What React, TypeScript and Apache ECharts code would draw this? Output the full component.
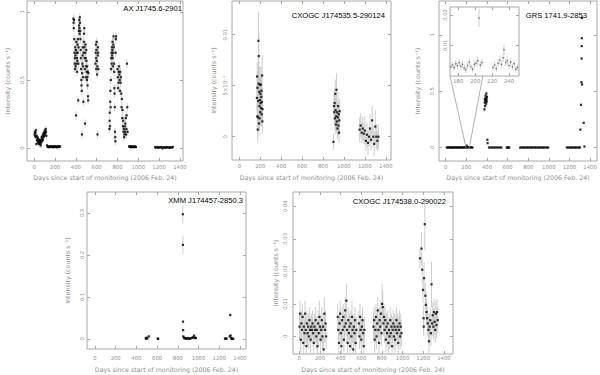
import React, { useEffect, useRef } from 'react';
import * as echarts from 'echarts';

// ---------- tick labels ----------
const X_TICKS = [0, 200, 400, 600, 800, 1000, 1200, 1400];
const X_NAME = 'Days since start of monitoring (2006 Feb. 24)';
const Y_NAME = 'Intensity (counts s\u207B\u00B9)';
const AX_Y_TICKS = [0, 0.5, 1];
const AX_Y_LABELS = ['0', '0.5', '1'];
const CXO1_Y_TICKS = [0, 0.005, 0.01];
const CXO1_Y_LABELS = ['0', '5\u00D710\u207B\u00B3', '0.01'];
const GRS_Y_TICKS = [0, 0.5, 1];
const GRS_Y_LABELS = ['0', '0.5', '1'];
const ZOOM_X_TICKS = [180, 200, 220, 240];
const ZOOM_Y_TICKS = [0.01, 0.02];
const ZOOM_Y_LABELS = ['0.01', '0.02'];
const XMM_Y_TICKS = [0, 0.1, 0.2, 0.3];
const XMM_Y_LABELS = ['0', '0.1', '0.2', '0.3'];
const CXO2_Y_TICKS = [0, 0.01, 0.02, 0.03, 0.04];
const CXO2_Y_LABELS = ['0', '0.01', '0.02', '0.03', '0.04'];

// ---------- data: [day, intensity, error] ----------
const AX_DATA = [
  [2, 0.10, 0.02], [5, 0.12, 0.02], [8, 0.09, 0.02], [11, 0.11, 0.02], [14, 0.08, 0.02], [17, 0.13, 0.02],
  [20, 0.03, 0.02], [23, 0.09, 0.02], [26, 0.06, 0.02], [29, 0.08, 0.02], [32, 0.05, 0.02], [35, 0.07, 0.02],
  [38, 0.04, 0.02], [41, 0.06, 0.02], [44, 0.03, 0.02], [47, 0.05, 0.02], [50, 0.04, 0.02], [53, 0.06, 0.02],
  [56, 0.03, 0.02], [59, 0.05, 0.02], [62, 0.02, 0.02], [65, 0.04, 0.02], [68, 0.06, 0.02], [71, 0.08, 0.02],
  [74, 0.05, 0.02], [77, 0.07, 0.02], [80, 0.09, 0.02], [83, 0.06, 0.02], [86, 0.10, 0.02], [89, 0.08, 0.02],
  [92, 0.11, 0.02], [95, 0.09, 0.02], [98, 0.12, 0.02], [101, 0.10, 0.02], [104, 0.13, 0.02], [107, 0.11, 0.02],
  [110, 0.14, 0.02], [113, 0.12, 0.02], [116, 0.09, 0.02],
  [122, 0.02, 0.008], [128, 0.01, 0.008], [134, 0.008, 0.008], [140, 0.012, 0.008], [146, 0.006, 0.008],
  [152, 0.01, 0.008], [158, 0.014, 0.008], [164, 0.008, 0.008], [170, 0.01, 0.008], [176, 0.012, 0.008],
  [182, 0.006, 0.008], [188, 0.01, 0.008], [194, 0.014, 0.008], [200, 0.008, 0.008], [206, 0.012, 0.008],
  [212, 0.01, 0.008], [218, 0.006, 0.008], [224, 0.012, 0.008], [230, 0.01, 0.008], [236, 0.008, 0.008],
  [242, 0.014, 0.008], [248, 0.01, 0.008],
  [376, 0.95, 0.03], [378, 0.92, 0.03], [380, 0.88, 0.03], [382, 0.94, 0.03], [384, 0.80, 0.03], [386, 0.70, 0.03],
  [388, 0.62, 0.03], [390, 0.66, 0.03], [392, 0.58, 0.03], [394, 0.74, 0.03], [396, 0.68, 0.03], [398, 0.60, 0.03],
  [400, 0.72, 0.03], [402, 0.24, 0.03], [404, 0.78, 0.03], [406, 0.62, 0.03], [408, 0.70, 0.03], [410, 0.66, 0.03],
  [412, 0.56, 0.03], [414, 0.64, 0.03], [416, 0.76, 0.03], [418, 0.70, 0.03], [420, 0.80, 0.03], [422, 0.35, 0.03],
  [424, 0.62, 0.03], [426, 0.74, 0.03], [428, 0.86, 0.03], [430, 0.90, 0.03], [432, 0.94, 0.03], [434, 0.88, 0.03],
  [436, 0.84, 0.03], [438, 0.96, 0.03], [440, 0.92, 0.03], [442, 0.86, 0.03], [444, 0.80, 0.03], [446, 0.72, 0.03],
  [448, 0.66, 0.03], [450, 0.58, 0.03], [452, 0.50, 0.03], [454, 0.46, 0.03], [456, 0.42, 0.03], [458, 0.10, 0.03],
  [460, 0.55, 0.03], [462, 0.62, 0.03], [464, 0.68, 0.03], [466, 0.74, 0.03], [468, 0.60, 0.03], [470, 0.52, 0.03],
  [472, 0.34, 0.03], [474, 0.70, 0.03], [476, 0.78, 0.03], [478, 0.84, 0.03], [480, 0.88, 0.03], [482, 0.74, 0.03],
  [484, 0.66, 0.03], [486, 0.58, 0.03], [488, 0.18, 0.03], [490, 0.70, 0.03], [492, 0.76, 0.03], [494, 0.66, 0.03],
  [496, 0.52, 0.03], [498, 0.60, 0.03], [500, 0.72, 0.03], [502, 0.64, 0.03], [504, 0.56, 0.03], [506, 0.50, 0.03],
  [508, 0.60, 0.03], [510, 0.52, 0.03], [512, 0.46, 0.03], [514, 0.56, 0.03], [516, 0.38, 0.03], [518, 0.35, 0.03],
  [520, 0.55, 0.03],
  [588, 0.62, 0.03], [590, 0.70, 0.03], [592, 0.76, 0.03], [594, 0.66, 0.03], [596, 0.58, 0.03], [598, 0.72, 0.03],
  [600, 0.78, 0.03], [602, 0.64, 0.03], [604, 0.54, 0.03], [606, 0.60, 0.03], [608, 0.10, 0.03], [610, 0.68, 0.03],
  [612, 0.74, 0.03], [614, 0.70, 0.03], [616, 0.58, 0.03],
  [722, 0.14, 0.03], [724, 0.20, 0.03], [726, 0.26, 0.03], [728, 0.16, 0.03], [730, 0.34, 0.03], [732, 0.42, 0.03],
  [734, 0.30, 0.03], [736, 0.50, 0.03], [738, 0.58, 0.03], [740, 0.66, 0.03], [742, 0.70, 0.03], [744, 0.62, 0.03],
  [746, 0.74, 0.03], [748, 0.68, 0.03], [750, 0.72, 0.03], [752, 0.78, 0.03], [754, 0.66, 0.03], [756, 0.60, 0.03],
  [758, 0.70, 0.03], [760, 0.76, 0.03], [762, 0.82, 0.03], [764, 0.74, 0.03], [766, 0.62, 0.03], [768, 0.56, 0.03],
  [770, 0.44, 0.03], [772, 0.40, 0.03], [774, 0.30, 0.03], [776, 0.12, 0.03], [778, 0.08, 0.03], [780, 0.05, 0.03],
  [782, 0.70, 0.03], [784, 0.80, 0.03], [786, 0.82, 0.03],
  [800, 0.58, 0.03], [803, 0.52, 0.03], [806, 0.44, 0.03], [809, 0.48, 0.03], [812, 0.56, 0.03], [815, 0.60, 0.03],
  [818, 0.54, 0.03], [821, 0.50, 0.03], [824, 0.42, 0.03], [827, 0.56, 0.03], [830, 0.48, 0.03], [833, 0.52, 0.03],
  [836, 0.40, 0.03], [839, 0.30, 0.03], [842, 0.36, 0.03],
  [846, 0.22, 0.03], [849, 0.28, 0.03], [852, 0.16, 0.03], [855, 0.20, 0.03], [858, 0.12, 0.03], [861, 0.14, 0.03],
  [864, 0.08, 0.03], [867, 0.10, 0.03], [870, 0.16, 0.03], [873, 0.12, 0.03], [876, 0.18, 0.03], [879, 0.22, 0.03],
  [882, 0.10, 0.03], [885, 0.14, 0.03], [888, 0.24, 0.03], [891, 0.62, 0.03], [894, 0.30, 0.03], [897, 0.12, 0.03],
  [912, 0.012, 0.008], [918, 0.008, 0.008], [924, 0.014, 0.008], [930, 0.006, 0.008], [936, 0.01, 0.008],
  [942, 0.012, 0.008], [948, 0.008, 0.008], [954, 0.01, 0.008], [960, 0.006, 0.008], [966, 0.012, 0.008],
  [972, 0.01, 0.008], [978, 0.008, 0.008],
  [1162, 0.006, 0.008], [1172, 0.004, 0.008], [1182, 0.008, 0.008], [1192, 0.002, 0.008], [1202, 0.006, 0.008],
  [1212, 0.004, 0.008], [1222, 0.008, 0.008], [1232, -0.002, 0.008], [1242, 0.006, 0.008], [1252, 0.004, 0.008],
  [1262, 0.002, 0.008], [1272, 0.008, 0.008], [1282, 0.004, 0.008], [1292, 0.006, 0.008], [1302, 0.002, 0.008],
  [1312, 0.006, 0.008], [1322, 0.004, 0.008], [1332, 0.008, 0.008],
];

const CXO1_DATA = [
  [168, 0.0038, 0.0012], [170, 0.0059, 0.0014], [172, 0.0020, 0.0012], [174, 0.0048, 0.0016], [176, 0.0007, 0.0012],
  [178, 0.0019, 0.0014], [180, 0.0035, 0.0018], [182, 0.0094, 0.0028], [184, 0.0052, 0.0020], [186, 0.0079, 0.0024],
  [188, 0.0013, 0.0012], [190, 0.0044, 0.0016], [192, 0.0030, 0.0014], [194, 0.0018, 0.0012], [196, 0.0051, 0.0018],
  [198, 0.0036, 0.0016], [200, 0.0024, 0.0014], [202, 0.0042, 0.0016], [204, 0.0033, 0.0014], [206, 0.0051, 0.0018],
  [208, 0.0028, 0.0014], [210, 0.0039, 0.0016], [212, 0.0045, 0.0016], [214, 0.0022, 0.0012], [216, 0.0034, 0.0014],
  [218, 0.0060, 0.0020], [220, 0.0015, 0.0012], [222, 0.0027, 0.0014],
  [900, -0.0005, 0.0008], [905, 0.0030, 0.0012], [908, 0.0024, 0.0012], [911, 0.0033, 0.0014], [914, 0.0018, 0.0012],
  [917, 0.0042, 0.0014], [920, 0.0026, 0.0012], [923, 0.0012, 0.0010], [926, 0.0020, 0.0012], [929, 0.0046, 0.0016],
  [932, 0.0015, 0.0010], [935, 0.0024, 0.0012], [938, 0.0008, 0.0010], [941, 0.0019, 0.0012], [944, 0.0030, 0.0014],
  [947, 0.0011, 0.0010], [950, 0.0022, 0.0012], [953, 0.0004, 0.0010], [956, 0.0016, 0.0012], [959, 0.0025, 0.0012],
  [1150, 0.0007, 0.0012], [1160, 0.0011, 0.0012], [1170, 0.0004, 0.0010], [1180, 0.0008, 0.0012], [1190, 0.0003, 0.0010],
  [1200, 0.0006, 0.0014], [1210, -0.0004, 0.0010], [1220, 0.0002, 0.0012], [1230, -0.0006, 0.0012], [1240, 0.0000, 0.0010],
  [1250, 0.0008, 0.0014], [1260, -0.0003, 0.0010], [1270, 0.0016, 0.0014], [1280, 0.0000, 0.0010], [1290, -0.0007, 0.0012],
  [1300, 0.0010, 0.0016], [1310, 0.0000, 0.0012], [1320, -0.0004, 0.0010], [1330, 0.0000, 0.0012],
];

const GRS_DATA = [
  [10, 0.002, 0.003], [20, 0.001, 0.003], [30, 0.003, 0.003], [40, 0.002, 0.003], [50, 0.001, 0.003], [60, 0.002, 0.003],
  [70, 0.001, 0.003], [80, 0.002, 0.003], [90, 0.003, 0.003], [100, 0.001, 0.003], [110, 0.002, 0.003], [120, 0.002, 0.003],
  [130, 0.001, 0.003], [140, 0.003, 0.003], [150, 0.002, 0.003], [160, 0.001, 0.003], [170, 0.002, 0.003], [180, 0.003, 0.003],
  [190, 0.002, 0.003], [200, 0.004, 0.003], [204, 0.018, 0.004], [210, 0.003, 0.003], [220, 0.002, 0.003], [230, 0.004, 0.003],
  [240, 0.003, 0.003], [250, 0.002, 0.003], [260, 0.001, 0.003],
  [376, 0.34, 0.02], [378, 0.40, 0.02], [380, 0.43, 0.02], [382, 0.37, 0.02], [384, 0.42, 0.02], [386, 0.46, 0.02],
  [388, 0.41, 0.02], [390, 0.44, 0.02], [392, 0.39, 0.02], [394, 0.48, 0.02], [396, 0.43, 0.02], [398, 0.41, 0.02],
  [400, 0.45, 0.02], [404, 0.07, 0.01], [406, 0.04, 0.01],
  [420, 0.002, 0.003], [435, 0.001, 0.003], [450, 0.002, 0.003], [465, 0.001, 0.003], [480, 0.002, 0.003],
  [495, 0.002, 0.003], [510, 0.001, 0.003], [525, 0.002, 0.003], [540, 0.001, 0.003],
  [592, 0.002, 0.003], [600, 0.001, 0.003], [608, 0.002, 0.003], [616, 0.001, 0.003],
  [722, 0.001, 0.003], [735, 0.002, 0.003], [748, 0.001, 0.003], [761, 0.002, 0.003], [774, 0.001, 0.003],
  [787, 0.002, 0.003], [800, 0.002, 0.003], [813, 0.001, 0.003], [826, 0.002, 0.003], [839, 0.001, 0.003],
  [852, 0.002, 0.003], [865, 0.002, 0.003], [878, 0.001, 0.003], [891, 0.002, 0.003], [904, 0.001, 0.003],
  [917, 0.002, 0.003], [930, 0.002, 0.003], [943, 0.001, 0.003], [956, 0.002, 0.003], [969, 0.001, 0.003],
  [982, 0.002, 0.003], [995, 0.001, 0.003],
  [1175, 0.002, 0.003], [1188, 0.001, 0.003], [1201, 0.002, 0.003], [1214, 0.001, 0.003], [1227, 0.002, 0.003],
  [1240, 0.001, 0.003], [1253, 0.002, 0.003], [1266, 0.001, 0.003], [1279, 0.002, 0.003], [1292, 0.001, 0.003],
  [1302, 0.002, 0.003],
  [1306, 0.16, 0.01], [1312, 0.38, 0.01], [1316, 0.58, 0.01], [1318, 0.79, 0.01], [1319, 0.90, 0.01],
  [1320, 0.97, 0.01], [1321, 1.15, 0.02], [1322, 0.56, 0.01], [1338, 0.22, 0.01], [1345, 0.01, 0.01],
];

const GRS_ZOOM_DATA = [
  [171, 0.0030, 0.0010], [173, 0.0036, 0.0010], [175, 0.0028, 0.0010], [177, 0.0040, 0.0012], [179, 0.0034, 0.0010],
  [181, 0.0044, 0.0012], [183, 0.0032, 0.0010], [185, 0.0038, 0.0012], [187, 0.0026, 0.0010], [189, 0.0020, 0.0010],
  [191, 0.0034, 0.0010], [193, 0.0046, 0.0012], [195, 0.0030, 0.0010], [197, 0.0022, 0.0010], [199, 0.0038, 0.0012],
  [201, 0.0042, 0.0012], [203, 0.0050, 0.0014], [204.5, 0.0190, 0.0030], [206, 0.0036, 0.0012], [208, 0.0044, 0.0012],
  [221, 0.0028, 0.0010], [223, 0.0036, 0.0012], [225, 0.0024, 0.0010], [227, 0.0042, 0.0012], [229, 0.0052, 0.0014],
  [231, 0.0038, 0.0012], [233, 0.0060, 0.0014], [234, 0.0086, 0.0016], [236, 0.0044, 0.0012], [238, 0.0050, 0.0014],
  [240, 0.0034, 0.0012], [242, 0.0046, 0.0012], [244, 0.0030, 0.0010], [246, 0.0040, 0.0012], [248, 0.0022, 0.0010],
  [250, 0.0028, 0.0010],
];

const XMM_DATA = [
  [490, 0.002, 0.002], [495, 0.000, 0.002], [500, 0.003, 0.002], [505, 0.001, 0.002], [520, 0.006, 0.002],
  [605, 0.001, 0.002], [610, 0.000, 0.002],
  [848, 0.297, 0.022], [849, 0.224, 0.022], [850, 0.041, 0.004], [851, 0.021, 0.004], [853, 0.006, 0.003],
  [858, 0.003, 0.002], [866, 0.001, 0.002], [875, 0.002, 0.002], [884, 0.000, 0.002], [893, 0.001, 0.002],
  [902, 0.002, 0.002], [911, 0.000, 0.002], [920, 0.001, 0.002], [930, 0.002, 0.002], [940, 0.003, 0.002],
  [950, 0.004, 0.002], [956, 0.008, 0.003], [962, 0.002, 0.002], [968, 0.003, 0.002], [974, 0.002, 0.002],
  [1255, 0.001, 0.002], [1262, 0.000, 0.002], [1270, 0.001, 0.002], [1300, 0.006, 0.003], [1306, 0.057, 0.006],
  [1310, 0.008, 0.003], [1315, 0.002, 0.002], [1320, 0.000, 0.002], [1328, 0.001, 0.002], [1335, 0.000, 0.002],
];

const CXO2_DATA = [
  [2, 0.003, 0.004], [8, 0.007, 0.004], [14, -0.001, 0.004], [20, 0.004, 0.004], [26, 0.002, 0.004], [32, 0.006, 0.004],
  [38, -0.002, 0.004], [44, 0.003, 0.004], [50, 0.001, 0.004], [56, 0.007, 0.004], [62, 0.002, 0.004], [68, -0.003, 0.004],
  [74, 0.004, 0.004], [80, 0.001, 0.004], [86, 0.003, 0.004], [92, 0.000, 0.004], [98, 0.005, 0.004], [104, 0.002, 0.004],
  [110, -0.001, 0.004], [116, 0.003, 0.004], [122, 0.002, 0.004], [128, 0.004, 0.004], [134, 0.001, 0.004], [140, -0.002, 0.004],
  [146, 0.003, 0.004], [152, 0.002, 0.004], [158, 0.005, 0.004], [164, 0.000, 0.004], [170, 0.002, 0.004], [176, -0.003, 0.004],
  [182, 0.004, 0.004], [188, 0.001, 0.004], [194, 0.006, 0.005], [200, 0.003, 0.004], [206, -0.001, 0.004], [212, 0.002, 0.004],
  [218, 0.005, 0.004], [224, 0.000, 0.004], [230, 0.003, 0.004], [236, -0.004, 0.004], [242, 0.007, 0.005], [248, 0.002, 0.004],
  [254, 0.004, 0.004], [260, 0.000, 0.004],
  [372, 0.006, 0.004], [378, 0.002, 0.004], [384, -0.002, 0.004], [390, 0.004, 0.004], [396, 0.007, 0.004], [402, 0.001, 0.004],
  [408, -0.003, 0.004], [414, 0.005, 0.004], [420, 0.002, 0.004], [426, 0.006, 0.004], [432, -0.001, 0.004], [438, 0.003, 0.004],
  [444, 0.008, 0.004], [450, 0.004, 0.004], [456, 0.011, 0.005], [462, 0.002, 0.004], [468, -0.002, 0.004], [474, 0.005, 0.004],
  [480, 0.001, 0.004], [486, 0.003, 0.004], [492, -0.003, 0.004], [498, 0.004, 0.004], [504, 0.000, 0.004], [510, 0.006, 0.005],
  [516, 0.002, 0.004], [522, -0.004, 0.004], [528, 0.003, 0.004], [534, 0.001, 0.004], [540, 0.005, 0.004], [546, -0.002, 0.004],
  [552, 0.002, 0.004],
  [576, 0.004, 0.004], [582, 0.000, 0.004], [588, 0.006, 0.004], [594, 0.002, 0.004], [600, -0.001, 0.004], [606, 0.003, 0.004],
  [612, 0.005, 0.004], [618, 0.001, 0.004], [624, -0.003, 0.004], [630, 0.002, 0.004],
  [718, 0.003, 0.004], [724, 0.005, 0.004], [730, -0.001, 0.004], [736, 0.002, 0.004], [742, 0.006, 0.004], [748, 0.000, 0.004],
  [754, 0.004, 0.004], [760, 0.008, 0.004], [766, 0.002, 0.004], [772, -0.002, 0.004], [778, 0.005, 0.004], [784, 0.003, 0.004],
  [790, 0.007, 0.004], [796, 0.001, 0.004], [802, 0.010, 0.006], [808, 0.009, 0.005], [814, 0.004, 0.004], [820, 0.006, 0.004],
  [826, 0.002, 0.004], [832, 0.005, 0.004], [838, -0.001, 0.004], [844, 0.003, 0.004], [850, 0.001, 0.004], [856, 0.004, 0.004],
  [862, -0.002, 0.004], [868, 0.002, 0.004], [874, 0.000, 0.004], [880, 0.005, 0.004], [886, 0.001, 0.004], [892, 0.003, 0.004],
  [898, -0.003, 0.004], [904, 0.002, 0.004], [910, 0.004, 0.004], [916, 0.000, 0.004], [922, 0.003, 0.004], [928, -0.001, 0.004],
  [934, 0.002, 0.004], [940, 0.005, 0.004], [946, 0.001, 0.004], [952, 0.003, 0.004], [958, -0.002, 0.004], [964, 0.002, 0.004],
  [970, 0.004, 0.004], [976, 0.000, 0.004], [982, 0.003, 0.004], [988, 0.001, 0.004],
  [1168, 0.024, 0.003], [1183, 0.027, 0.005], [1190, 0.0205, 0.004], [1198, 0.0143, 0.004], [1203, 0.0056, 0.004],
  [1205, 0.003, 0.003], [1208, 0.0179, 0.005], [1215, 0.0345, 0.008], [1220, 0.0125, 0.004], [1225, 0.0097, 0.004],
  [1232, 0.0075, 0.004], [1238, 0.0056, 0.004], [1244, 0.004, 0.004], [1250, 0.002, 0.004], [1256, -0.0015, 0.004],
  [1262, 0.003, 0.004], [1268, 0.005, 0.004], [1274, 0.001, 0.004], [1280, 0.016, 0.007], [1286, 0.004, 0.004],
  [1292, 0.0065, 0.004], [1298, 0.003, 0.004], [1304, 0.0075, 0.004], [1310, 0.0045, 0.004], [1316, 0.002, 0.004],
  [1322, 0.007, 0.004], [1328, 0.0035, 0.004], [1334, 0.0075, 0.004], [1340, 0.005, 0.004],
];

// ---------- styles ----------
const FRAME = '#a8a8a8';
const LABEL = '#8f8f8f';
const ERR = '#c2c2c2';
const LABEL_FONT = 'DejaVu Sans';

type Panel = {
  title?: string; titleRight?: number; titleTop?: number;
  data: number[][];
  left: number; top: number; width: number; height: number;
  xMin: number; xMax: number; yMin: number; yMax: number;
  xTicks: number[]; yTicks: number[]; yLabels: string[];
  xLabelMargin: number; yLabelMargin: number;
  xNameGap?: number; yNameGap?: number;
  inset?: boolean; labelSize: number; symbolSize: number;
};

const PANELS: Panel[] = [
  { title: 'AX J1745.6-2901', titleRight: 418, titleTop: 4, data: AX_DATA,
    left: 27, top: 1, width: 156, height: 160, xMin: -70, xMax: 1430, yMin: -0.095, yMax: 1.08,
    xTicks: X_TICKS, yTicks: AX_Y_TICKS, yLabels: AX_Y_LABELS, xLabelMargin: 3, yLabelMargin: 3,
    xNameGap: 13.5, yNameGap: 17, labelSize: 5.3, symbolSize: 2.2 },
  { title: 'CXOGC J174535.5-290124', titleRight: 215, titleTop: 11, data: CXO1_DATA,
    left: 232, top: 1, width: 159, height: 159, xMin: -70, xMax: 1450, yMin: -0.00228, yMax: 0.0133,
    xTicks: X_TICKS, yTicks: CXO1_Y_TICKS, yLabels: CXO1_Y_LABELS, xLabelMargin: 3, yLabelMargin: 4.5,
    xNameGap: 14, yNameGap: 16, labelSize: 5.3, symbolSize: 2.2 },
  { title: 'GRS 1741.9-2853', titleRight: 13, titleTop: 11, data: GRS_DATA,
    left: 439, top: 1, width: 158, height: 160, xMin: -65, xMax: 1467, yMin: -0.118, yMax: 1.30,
    xTicks: X_TICKS, yTicks: GRS_Y_TICKS, yLabels: GRS_Y_LABELS, xLabelMargin: 3, yLabelMargin: 4.8,
    xNameGap: 13.5, yNameGap: 18.5, labelSize: 5.3, symbolSize: 2.2 },
  { title: 'XMM J174457-2850.3', titleRight: 357, titleTop: 196, data: XMM_DATA,
    left: 87, top: 192, width: 159, height: 157, xMin: -77, xMax: 1458, yMin: -0.024, yMax: 0.35,
    xTicks: X_TICKS, yTicks: XMM_Y_TICKS, yLabels: XMM_Y_LABELS, xLabelMargin: 6.5, yLabelMargin: 2.5,
    xNameGap: 17, yNameGap: 17, labelSize: 5.3, symbolSize: 2.2 },
  { title: 'CXOGC J174538.0-290022', titleRight: 154, titleTop: 197, data: CXO2_DATA,
    left: 293, top: 192, width: 160, height: 162, xMin: -61, xMax: 1488, yMin: -0.0054, yMax: 0.0444,
    xTicks: X_TICKS, yTicks: CXO2_Y_TICKS, yLabels: CXO2_Y_LABELS, xLabelMargin: 1.8, yLabelMargin: 5.8,
    xNameGap: 12, yNameGap: 15, labelSize: 5.3, symbolSize: 2.2 },
  { data: GRS_ZOOM_DATA, inset: true,
    left: 450, top: 7, width: 69, height: 69, xMin: 170.2, xMax: 251.8, yMin: 0, yMax: 0.0226,
    xTicks: ZOOM_X_TICKS, yTicks: ZOOM_Y_TICKS, yLabels: ZOOM_Y_LABELS, xLabelMargin: 2.5, yLabelMargin: 3,
    labelSize: 5.3, symbolSize: 1.4 },
];

function buildOption() {
  const grid: any[] = [], xAxis: any[] = [], yAxis: any[] = [], series: any[] = [], title: any[] = [];
  const nameStyle = { color: LABEL, fontSize: 6.3, fontFamily: LABEL_FONT };
  const noLine = { show: false, onZero: false };
  PANELS.forEach((p, i) => {
    const z = p.inset ? { z: 6 } : {};
    grid.push({ left: p.left, top: p.top, width: p.width, height: p.height, show: true,
      borderColor: FRAME, borderWidth: 1, backgroundColor: p.inset ? '#ffffff' : 'transparent', z: p.inset ? 5 : 0 });
    const tick = (vals: number[]) => ({ show: true, inside: true, length: 3, lineStyle: { color: FRAME, width: 1 }, customValues: vals });
    const fmt = (ticks: number[], labels: string[]) => (v: number) => {
      const k = ticks.findIndex((t) => Math.abs(t - v) < 1e-9);
      return k >= 0 ? labels[k] : '';
    };
    xAxis.push({ type: 'value', gridIndex: i, min: p.xMin, max: p.xMax, position: 'bottom',
      axisLine: noLine, splitLine: { show: false }, axisTick: tick(p.xTicks),
      axisLabel: { show: true, customValues: p.xTicks, formatter: (v: number) => String(v), color: LABEL,
        fontSize: p.labelSize, fontFamily: LABEL_FONT, margin: p.xLabelMargin },
      name: p.inset ? '' : X_NAME, nameLocation: 'middle', nameGap: p.xNameGap ?? 12, nameTextStyle: nameStyle, ...z });
    xAxis.push({ type: 'value', gridIndex: i, min: p.xMin, max: p.xMax, position: 'top',
      axisLine: noLine, splitLine: { show: false }, axisTick: tick(p.xTicks),
      axisLabel: { show: false }, ...z });
    yAxis.push({ type: 'value', gridIndex: i, min: p.yMin, max: p.yMax, position: 'left',
      axisLine: noLine, splitLine: { show: false }, axisTick: tick(p.yTicks),
      axisLabel: { show: true, customValues: p.yTicks, formatter: fmt(p.yTicks, p.yLabels), rotate: 90,
        color: LABEL, fontSize: p.labelSize, fontFamily: LABEL_FONT, margin: p.yLabelMargin },
      name: p.inset ? '' : Y_NAME, nameLocation: 'middle', nameRotate: 90, nameGap: p.yNameGap ?? 15,
      nameTextStyle: nameStyle, ...z });
    yAxis.push({ type: 'value', gridIndex: i, min: p.yMin, max: p.yMax, position: 'right',
      axisLine: noLine, splitLine: { show: false }, axisTick: tick(p.yTicks),
      axisLabel: { show: false }, ...z });
    series.push({
      type: 'custom', xAxisIndex: 2 * i, yAxisIndex: 2 * i, data: p.data, clip: true,
      dimensions: ['day', 'value', 'err'], encode: { x: 0, y: 1 }, z: p.inset ? 7 : 2,
      renderItem: (_params: any, api: any) => {
        const x = api.value(0), y = api.value(1), e = api.value(2);
        const a = api.coord([x, y - e]);
        const b = api.coord([x, y + e]);
        return { type: 'line', shape: { x1: a[0], y1: a[1], x2: b[0], y2: b[1] },
          style: { stroke: ERR, lineWidth: 0.8 } };
      },
    });
    series.push({
      type: 'scatter', xAxisIndex: 2 * i, yAxisIndex: 2 * i, data: p.data, clip: true,
      symbol: 'rect', symbolSize: p.symbolSize, itemStyle: { color: p.inset ? '#555' : '#000' },
      z: p.inset ? 8 : 3, silent: true,
    });
    if (p.title) {
      title.push({ text: p.title, right: p.titleRight, top: p.titleTop, padding: 0,
        textStyle: { fontSize: 7.6, fontWeight: 'normal', color: '#000', fontFamily: 'Liberation Sans' } });
    }
  });
  return { animation: false, backgroundColor: '#fff', title, grid, xAxis, yAxis, series };
}

export default function App() {
  const ref = useRef<HTMLDivElement>(null);
  useEffect(() => {
    if (!ref.current) return;
    const chart = echarts.init(ref.current, null, { renderer: 'svg' });
    chart.setOption(buildOption());
    // connector lines from inset (axes 10) to GRS panel (axes 4)
    const inset = PANELS[5];
    const a1 = chart.convertToPixel({ xAxisIndex: 10, yAxisIndex: 10 } as any, [inset.xMin, inset.yMin]) as number[];
    const a2 = chart.convertToPixel({ xAxisIndex: 10, yAxisIndex: 10 } as any, [209, inset.yMin]) as number[];
    const b1 = chart.convertToPixel({ xAxisIndex: 4, yAxisIndex: 4 } as any, [197, 0]) as number[];
    const b2 = chart.convertToPixel({ xAxisIndex: 4, yAxisIndex: 4 } as any, [229, 0]) as number[];
    if (a1 && a2 && b1 && b2) {
      chart.setOption({
        graphic: [
          { type: 'line', shape: { x1: a1[0], y1: a1[1], x2: b1[0], y2: b1[1] }, style: { stroke: '#9a9a9a', lineWidth: 0.8 }, z: 10 },
          { type: 'line', shape: { x1: a2[0], y1: a2[1], x2: b2[0], y2: b2[1] }, style: { stroke: '#9a9a9a', lineWidth: 0.8 }, z: 10 },
        ],
      });
    }
    return () => chart.dispose();
  }, []);
  return <div ref={ref} style={{ position: 'absolute', left: 0, top: 0, width: 600, height: 375, background: '#fff' }} />;
}
